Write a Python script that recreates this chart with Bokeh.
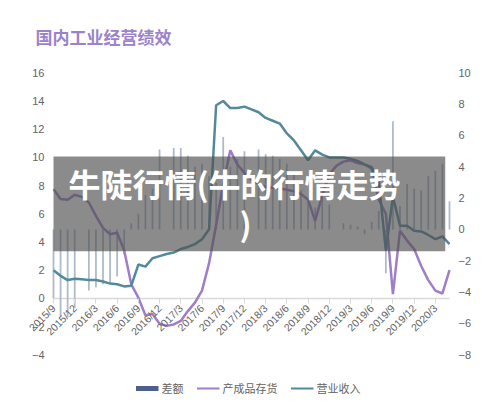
import math
import numpy as np
from bokeh.plotting import figure
from bokeh.models import (Range1d, LinearAxis, FixedTicker, BoxAnnotation, Label,
                          Legend, LegendItem, ColumnDataSource)
from bokeh.embed import file_html
from bokeh.resources import INLINE

months = ["2015/9", "2015/10", "2015/11", "2015/12",
          "2016/1", "2016/2", "2016/3", "2016/4", "2016/5", "2016/6", "2016/7", "2016/8",
          "2016/9", "2016/10", "2016/11", "2016/12",
          "2017/1", "2017/2", "2017/3", "2017/4", "2017/5", "2017/6", "2017/7", "2017/8",
          "2017/9", "2017/10", "2017/11", "2017/12",
          "2018/1", "2018/2", "2018/3", "2018/4", "2018/5", "2018/6", "2018/7", "2018/8",
          "2018/9", "2018/10", "2018/11", "2018/12",
          "2019/1", "2019/2", "2019/3", "2019/4", "2019/5", "2019/6", "2019/7", "2019/8",
          "2019/9", "2019/10", "2019/11", "2019/12",
          "2020/1", "2020/2", "2020/3", "2020/4", "2020/5"]

# 营业收入 (left axis)
revenue = [2.0, 1.6, 1.3, 1.4, 1.35, 1.3, 1.3, 1.2, 1.05, 1.0, 0.85, 0.9,
           2.4, 2.25, 2.85, 3.0, 3.15, 3.25, 3.5, 3.65, 3.85, 4.2, 4.9, 13.7,
           14.0, 13.5, 13.5, 13.6, 13.4, 13.2, 12.8, 12.6, 12.4, 11.7, 11.2, 10.5,
           9.8, 10.5, 10.2, 10.0, 10.0, 10.0, 9.9, 9.75, 9.5, 9.3, 8.3, 3.4,
           7.2, 5.15, 5.15, 4.8, 4.75, 4.5, 4.2, 4.4, 3.85]

# 产成品存货 (left axis)
inventory = [7.75, 7.05, 7.0, 7.35, 7.2, 6.8, 5.85, 5.0, 4.55, 4.65, 3.4, 1.0,
             0.05, -1.2, -1.1, -1.8, -1.95, -1.85, -1.6, -0.9, -0.3, 0.55, 2.5, 5.2,
             8.1, 10.5, 9.5, 8.9, 8.4, 8.1, 7.9, 7.85, 7.8, 7.7, 7.6, 7.4,
             7.0, 5.5, 7.3, 8.8, 9.4, 9.7, 9.8, 9.6, 9.5, 9.2, 7.0, 6.0,
             0.3, 4.8, 4.1, 3.5, 2.3, 1.3, 0.55, 0.35, 2.0]

# 差额 (right axis), no January reading
nan = float("nan")
difference = [-4.4, -5.6, -5.6, -5.0, nan, -3.9, -3.7, -3.5, -3.4, -3.0, -1.6, 0.4,
              1.0, 2.2, 2.6, 5.1, nan, 5.2, 5.2, 4.7, 4.0, 4.2, 3.4, 3.0,
              5.9, 4.0, 4.5, 5.0, nan, 5.1, 4.8, 4.7, 4.5, 4.2, 3.5, 2.5,
              2.0, 1.4, 2.0, 1.6, nan, 0.4, 0.3, 0.2, -0.3, 0.5, 1.2, -2.8,
              6.9, 1.5, 2.9, 2.6, 2.5, 3.4, 3.75, 4.2, 1.8]

tick_labels = ["2015/9", "2015/12", "2016/3", "2016/6", "2016/9", "2016/12",
               "2017/3", "2017/6", "2017/9", "2017/12", "2018/3", "2018/6",
               "2018/9", "2018/12", "2019/3", "2019/6", "2019/9", "2019/12", "2020/3"]
left_ticks = [-4, -2, 0, 2, 4, 6, 8, 10, 12, 14, 16]
right_ticks = [-8, -6, -4, -2, 0, 2, 4, 6, 8, 10]

series_names = ["差额", "产成品存货", "营业收入"]
title_text = "国内工业经营绩效"
banner_line1 = "牛陡行情(牛的行情走势"
banner_line2 = ")"

BAR = "#a3b3c5"
LEG_BAR = "#4d5f8a"
PURPLE = "#9f7dc8"
TEAL = "#54899b"
AXIS_TXT = "#636363"
CJK = "Noto Sans CJK SC"

W, H = 496, 404
n = len(months)
last = n - 1
# pixel geometry of the plotting area (only used to set the ranges)
px_left, px_right = 53.0, 449.0
ppx = (px_right - px_left) / last
x_lo = -px_left / ppx
x_hi = (W - px_left) / ppx
# left axis: 16 at 72.3, -4 at 354.3
lk = (354.3 - 72.3) / 20.0
l0 = 72.3 + 16 * lk
y_hi = l0 / lk
y_lo = (l0 - H) / lk
# right axis: 10 at 72.3, -8 at 354.3
rk = (354.3 - 72.3) / 18.0
r0 = 72.3 + 10 * rk
ry_hi = r0 / rk
ry_lo = (r0 - H) / rk

idx = np.arange(n)
src = ColumnDataSource(dict(x=idx, rev=np.array(revenue), inv=np.array(inventory),
                            diff=np.array(difference, dtype=float)))

p = figure(width=W, height=H, output_backend="svg", toolbar_location=None,
           x_range=Range1d(x_lo, x_hi), y_range=Range1d(y_lo, y_hi),
           min_border_left=0, min_border_right=0, min_border_top=0,
           min_border_bottom=0, min_border=0)
p.extra_y_ranges = {"right": Range1d(ry_lo, ry_hi)}
p.outline_line_color = None
p.xgrid.visible = False
p.ygrid.visible = False
p.background_fill_color = "white"
p.border_fill_color = "white"

def style_y(ax):
    ax.axis_line_color = None
    ax.major_tick_line_color = None
    ax.minor_tick_line_color = None
    ax.major_tick_out = 0
    ax.major_tick_in = 0
    ax.major_label_standoff = 9
    ax.major_label_text_color = AXIS_TXT
    ax.major_label_text_font = "Liberation Sans"
    ax.major_label_text_font_size = "11px"

ya = p.yaxis[0]
ya.ticker = FixedTicker(ticks=left_ticks)
ya.fixed_location = 0
style_y(ya)

ra = LinearAxis(y_range_name="right", ticker=FixedTicker(ticks=right_ticks))
ra.fixed_location = last
style_y(ra)
p.add_layout(ra, "right")

xa = p.xaxis[0]
xa.fixed_location = 0
tick_pos = [months.index(t) for t in tick_labels]
xa.ticker = FixedTicker(ticks=tick_pos)
xa.major_label_overrides = {pos: lab for pos, lab in zip(tick_pos, tick_labels)}
xa.major_label_orientation = math.pi / 4
xa.axis_line_color = None
xa.major_tick_line_color = "#d9d9d9"
xa.minor_tick_line_color = None
xa.major_tick_out = 5
xa.major_tick_in = 0
xa.major_label_standoff = 3
xa.major_label_text_color = AXIS_TXT
xa.major_label_text_font = "Liberation Sans"
xa.major_label_text_font_size = "10.5px"

# category axis line at zero, across the data span
p.segment(x0=[0], y0=[0], x1=[last], y1=[0], line_color="#d9d9d9", line_width=1.5)

# bars
p.vbar(x="x", top="diff", bottom=0, width=0.25, source=src, y_range_name="right",
       fill_color=BAR, fill_alpha=0.9, line_color=None)
# lines
p.line(x="x", y="inv", source=src, line_color=PURPLE, line_width=2.5)
p.line(x="x", y="rev", source=src, line_color=TEAL, line_width=2.5)

# legend proxies (off-screen point)
r1 = p.line(x=[-100, -99], y=[-100, -100], line_color=LEG_BAR, line_width=5)
r2 = p.line(x=[-100, -99], y=[-100, -100], line_color=PURPLE, line_width=2)
r3 = p.line(x=[-100, -99], y=[-100, -100], line_color=TEAL, line_width=2)
legend = Legend(items=[LegendItem(label=series_names[0], renderers=[r1]),
                       LegendItem(label=series_names[1], renderers=[r2]),
                       LegendItem(label=series_names[2], renderers=[r3])],
                location="bottom_center", orientation="horizontal",
                label_text_font=CJK, label_text_font_size="11px",
                label_text_color=AXIS_TXT, glyph_width=23, glyph_height=12,
                label_standoff=3, spacing=13, padding=0, margin=8,
                background_fill_alpha=0, border_line_alpha=0)
p.add_layout(legend)

# banner overlay
box = BoxAnnotation(left=0, right=55.4, bottom=3.35, top=10.06,
                    fill_color="#4f4f4f", fill_alpha=0.66, line_alpha=0)
p.add_layout(box)
p.add_layout(Label(x=(68 - px_left) / ppx, y=(l0 - 182) / lk, text=banner_line1,
                   text_color="white", text_font=CJK, text_font_style="bold",
                   text_font_size="32px", text_baseline="middle", text_align="left"))
p.add_layout(Label(x=(245 - px_left) / ppx, y=(l0 - 222) / lk, text=banner_line2,
                   text_color="white", text_font=CJK, text_font_style="bold",
                   text_font_size="32px", text_baseline="middle", text_align="center"))

# title
p.add_layout(Label(x=(35 - px_left) / ppx, y=(l0 - 36) / lk, text=title_text,
                   text_color="#9c82cb", text_font=CJK, text_font_style="bold",
                   text_font_size="17px", text_baseline="middle", text_align="left"))

open("out.html", "w").write(file_html(p, INLINE))
